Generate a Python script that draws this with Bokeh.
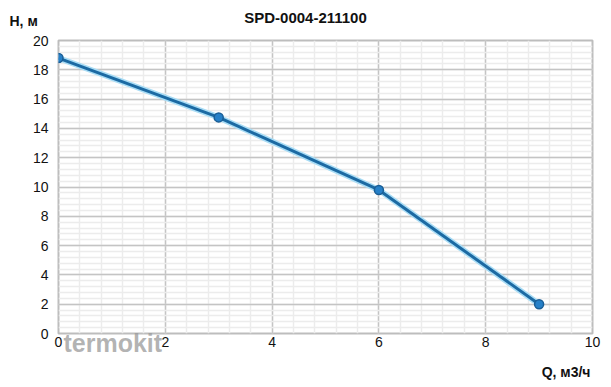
from bokeh.plotting import figure
from bokeh.models import Label, FixedTicker, Range1d
from bokeh.embed import file_html
from bokeh.resources import INLINE

q = [0, 3, 6, 9]
h = [18.8, 14.75, 9.8, 2.0]
x_ticks = [0, 2, 4, 6, 8, 10]
y_ticks = [0, 2, 4, 6, 8, 10, 12, 14, 16, 18, 20]
title_text = "SPD-0004-211100"
y_label = "H, м"
x_label = "Q, м3/ч"
watermark = "termokit"

FONT = "Liberation Sans"

p = figure(width=611, height=387, output_backend="svg", toolbar_location=None,
           x_range=Range1d(0, 10), y_range=Range1d(0, 20),
           min_border_left=58, min_border_right=19, min_border_top=40, min_border_bottom=54)
p.title = None
p.outline_line_color = "#bdbdbd"
p.outline_line_width = 2

for ax in (p.xaxis, p.yaxis):
    ax.axis_line_color = None
    ax.major_tick_line_color = None
    ax.minor_tick_line_color = None
    ax.major_tick_out = 0
    ax.minor_tick_out = 0
    ax.major_label_text_font = FONT
    ax.major_label_text_font_size = "14px"
    ax.major_label_text_color = "#111111"

p.xaxis.ticker = FixedTicker(ticks=x_ticks, minor_ticks=[i * 0.4 for i in range(26)])
p.yaxis.ticker = FixedTicker(ticks=y_ticks, minor_ticks=[i * 0.4 for i in range(51)])
p.xaxis.major_label_standoff = 3
p.yaxis.major_label_standoff = 10

for g in (p.xgrid, p.ygrid):
    g.grid_line_color = "#c4c4c4"
    g.grid_line_width = 1.5
    g.minor_grid_line_color = "#ececec"
    g.minor_grid_line_width = 1.5

p.line(q, h, line_color="#a8dcf5", line_width=6)
p.line(q, h, line_color="#1c6aa3", line_width=3)
p.scatter(q, h, size=9, fill_color="#2680c8", line_color="#1a5e96", line_width=1.5)


def add_text(side, x, y, text, size, align="left", color="#111111", alpha=1.0):
    p.add_layout(Label(x=x, y=y, x_units="screen", y_units="screen", text=text,
                       text_font=FONT, text_font_style="bold",
                       text_font_size=size, text_align=align, text_baseline="middle",
                       text_color=color, text_alpha=alpha), side)


# above panel: title (nearest the frame), then the x-axis name drawn down at the bottom
add_text("above", 247, 23, title_text, "15px", align="center")
add_text("above", 532, -348, x_label, "14px", align="right")
# left panel: y-axis name above the frame
add_text("left", 8, 313, y_label, "14px")
# below panel: watermark over the first tick labels
add_text("below", 5, 35, watermark, "25px", color="#9a9a9a", alpha=0.75)

html = file_html(p, INLINE)
open("out.html", "w").write(html)
